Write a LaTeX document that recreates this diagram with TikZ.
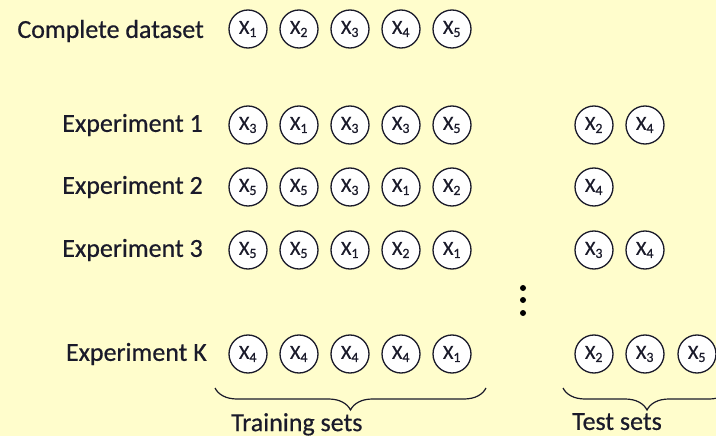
\documentclass[tikz,border=0pt]{standalone}
\usepackage{fontspec}
\setmainfont{Carlito}
\newfontfamily\labfont{Carlito}[FakeBold=0.5]
\usetikzlibrary{decorations.pathreplacing}
\definecolor{bgc}{HTML}{FFFDCC}
\definecolor{txt}{HTML}{1A1A2A}
\begin{document}
\begin{tikzpicture}[x=1pt,y=-1pt,
  item/.style={circle,draw=txt,fill=white,line width=1.3pt,minimum size=38pt,inner sep=0pt,font=\labfont\fontsize{20}{20}\selectfont,text=txt},
  lab/.style={anchor=east,font=\labfont\fontsize{26}{28}\selectfont,text=txt,inner sep=0pt},
  bracelab/.style={anchor=north west,font=\labfont\fontsize{26}{28}\selectfont,text=txt,inner sep=0pt},
  brc/.style={decorate,decoration={brace,mirror,amplitude=22pt},line width=1.2pt,draw=txt},
  dotmark/.style={circle,fill=black,inner sep=0pt,minimum size=6pt}]
\fill[bgc] (0,0) rectangle (716,436);
\useasboundingbox (0,0) rectangle (716,436);
\newcommand{\xs}[1]{X\textsubscript{#1}}
% labels
\node[lab] (l0) at (204,31) {Complete dataset};
\node[lab] (l1) at (203,125) {Experiment 1};
\node[lab] (l2) at (203,187) {Experiment 2};
\node[lab] (l3) at (203,250) {Experiment 3};
\node[lab] (lk) at (207,354) {Experiment K};
% complete dataset
\foreach \v [count=\i] in {1,2,3,4,5}
  \node[item] (c\i) at ({248+51*(\i-1)},29) {\xs{\v}};
% experiment 1
\foreach \v [count=\i] in {3,1,3,3,5}
  \node[item] (a\i) at ({248+51*(\i-1)},125) {\xs{\v}};
\node[item] (ta1) at (594,125) {\xs{2}};
\node[item] (ta2) at (645,125) {\xs{4}};
% experiment 2
\foreach \v [count=\i] in {5,5,3,1,2}
  \node[item] (b\i) at ({248+51*(\i-1)},187) {\xs{\v}};
\node[item] (tb1) at (594,187) {\xs{4}};
% experiment 3
\foreach \v [count=\i] in {5,5,1,2,1}
  \node[item] (d\i) at ({248+51*(\i-1)},250) {\xs{\v}};
\node[item] (td1) at (594,250) {\xs{3}};
\node[item] (td2) at (645,250) {\xs{4}};
% experiment K
\foreach \v [count=\i] in {4,4,4,4,1}
  \node[item] (k\i) at ({248+51*(\i-1)},354) {\xs{\v}};
\node[item] (tk1) at (594,354) {\xs{2}};
\node[item] (tk2) at (645,354) {\xs{3}};
\node[item] (tk3) at (697,354) {\xs{5}};
% dots
\node[dotmark] (d1m) at (523,288) {};
\node[dotmark] (d2m) at (523,300) {};
\node[dotmark] (d3m) at (523,313) {};
% braces
\coordinate (trL) at (215,388);
\coordinate (trR) at (486,388);
\coordinate (teL) at (563,388);
\coordinate (teR) at (731,388);
\draw[brc] (trL) -- (trR);
\draw[brc] (teL) -- (teR);
\node[bracelab] (trlab) at (231,413) {Training sets};
\node[bracelab] (telab) at (572,413) {Test sets};
\end{tikzpicture}
\end{document}
